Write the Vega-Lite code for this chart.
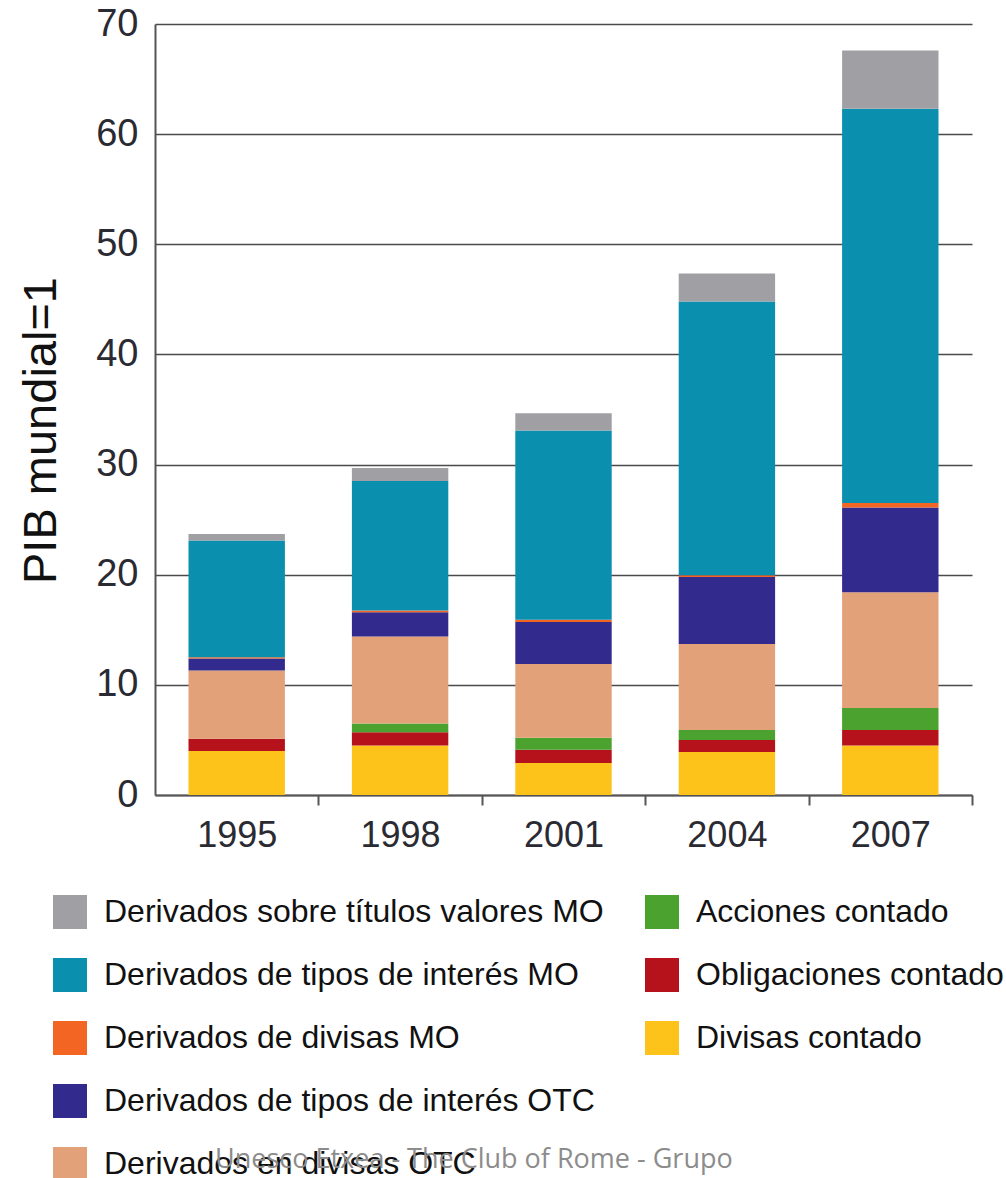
{
  "$schema": "https://vega.github.io/schema/vega-lite/v6.json",
  "width": 817,
  "height": 771,
  "autosize": {"type": "none"},
  "padding": {"left": 155, "top": 24, "right": 34, "bottom": 383},
  "background": "white",
  "title": {
    "text": "Unesco Etxea - The Club of Rome - Grupo",
    "orient": "top",
    "anchor": "start",
    "frame": "group",
    "font": "Open Sans",
    "fontSize": 27,
    "fontWeight": "normal",
    "color": "#8c8c8c",
    "dx": 60,
    "dy": 1173
  },
  "data": {
    "values": [
      {"anio": "1995", "cat": "Divisas contado", "orden": 1, "valor": 4.0},
      {"anio": "1995", "cat": "Obligaciones contado", "orden": 2, "valor": 1.1},
      {"anio": "1995", "cat": "Acciones contado", "orden": 3, "valor": 0.0},
      {"anio": "1995", "cat": "Derivados en divisas OTC", "orden": 4, "valor": 6.2},
      {"anio": "1995", "cat": "Derivados de tipos de interés OTC", "orden": 5, "valor": 1.1},
      {"anio": "1995", "cat": "Derivados de divisas MO", "orden": 6, "valor": 0.1},
      {"anio": "1995", "cat": "Derivados de tipos de interés MO", "orden": 7, "valor": 10.6},
      {"anio": "1995", "cat": "Derivados sobre títulos valores MO", "orden": 8, "valor": 0.6},
      {"anio": "1998", "cat": "Divisas contado", "orden": 1, "valor": 4.5},
      {"anio": "1998", "cat": "Obligaciones contado", "orden": 2, "valor": 1.2},
      {"anio": "1998", "cat": "Acciones contado", "orden": 3, "valor": 0.8},
      {"anio": "1998", "cat": "Derivados en divisas OTC", "orden": 4, "valor": 7.9},
      {"anio": "1998", "cat": "Derivados de tipos de interés OTC", "orden": 5, "valor": 2.2},
      {"anio": "1998", "cat": "Derivados de divisas MO", "orden": 6, "valor": 0.15},
      {"anio": "1998", "cat": "Derivados de tipos de interés MO", "orden": 7, "valor": 11.75},
      {"anio": "1998", "cat": "Derivados sobre títulos valores MO", "orden": 8, "valor": 1.2},
      {"anio": "2001", "cat": "Divisas contado", "orden": 1, "valor": 2.9},
      {"anio": "2001", "cat": "Obligaciones contado", "orden": 2, "valor": 1.2},
      {"anio": "2001", "cat": "Acciones contado", "orden": 3, "valor": 1.1},
      {"anio": "2001", "cat": "Derivados en divisas OTC", "orden": 4, "valor": 6.7},
      {"anio": "2001", "cat": "Derivados de tipos de interés OTC", "orden": 5, "valor": 3.8},
      {"anio": "2001", "cat": "Derivados de divisas MO", "orden": 6, "valor": 0.2},
      {"anio": "2001", "cat": "Derivados de tipos de interés MO", "orden": 7, "valor": 17.2},
      {"anio": "2001", "cat": "Derivados sobre títulos valores MO", "orden": 8, "valor": 1.55},
      {"anio": "2004", "cat": "Divisas contado", "orden": 1, "valor": 3.9},
      {"anio": "2004", "cat": "Obligaciones contado", "orden": 2, "valor": 1.1},
      {"anio": "2004", "cat": "Acciones contado", "orden": 3, "valor": 0.9},
      {"anio": "2004", "cat": "Derivados en divisas OTC", "orden": 4, "valor": 7.8},
      {"anio": "2004", "cat": "Derivados de tipos de interés OTC", "orden": 5, "valor": 6.1},
      {"anio": "2004", "cat": "Derivados de divisas MO", "orden": 6, "valor": 0.15},
      {"anio": "2004", "cat": "Derivados de tipos de interés MO", "orden": 7, "valor": 24.85},
      {"anio": "2004", "cat": "Derivados sobre títulos valores MO", "orden": 8, "valor": 2.55},
      {"anio": "2007", "cat": "Divisas contado", "orden": 1, "valor": 4.5},
      {"anio": "2007", "cat": "Obligaciones contado", "orden": 2, "valor": 1.4},
      {"anio": "2007", "cat": "Acciones contado", "orden": 3, "valor": 2.0},
      {"anio": "2007", "cat": "Derivados en divisas OTC", "orden": 4, "valor": 10.5},
      {"anio": "2007", "cat": "Derivados de tipos de interés OTC", "orden": 5, "valor": 7.7},
      {"anio": "2007", "cat": "Derivados de divisas MO", "orden": 6, "valor": 0.4},
      {"anio": "2007", "cat": "Derivados de tipos de interés MO", "orden": 7, "valor": 35.8},
      {"anio": "2007", "cat": "Derivados sobre títulos valores MO", "orden": 8, "valor": 5.3}
    ]
  },
  "mark": {"type": "bar"},
  "encoding": {
    "x": {
      "field": "anio",
      "type": "ordinal",
      "scale": {"paddingInner": 0.41, "paddingOuter": 0.205},
      "axis": {
        "title": null,
        "labelAngle": 0,
        "labelFont": "Liberation Sans",
        "labelFontSize": 36,
        "labelColor": "#2a2a32",
        "labelPadding": 13,
        "tickOffset": 81.7,
        "labelOffset": -81.7,
        "tickSize": 10,
        "tickColor": "#555555",
        "tickWidth": 2,
        "domainColor": "#555555",
        "domainWidth": 2,
        "grid": false
      }
    },
    "y": {
      "field": "valor",
      "type": "quantitative",
      "stack": "zero",
      "scale": {"domain": [0, 70], "nice": false},
      "axis": {
        "title": "PIB mundial=1",
        "titleFont": "Liberation Sans",
        "titleFontSize": 47,
        "titleFontWeight": "normal",
        "titleColor": "#111111",
        "titleAngle": -90,
        "titleAlign": "center",
        "titleBaseline": "middle",
        "titleX": -114,
        "titleY": 406,
        "values": [0, 10, 20, 30, 40, 50, 60, 70],
        "labelFont": "Liberation Sans",
        "labelFontSize": 38,
        "labelColor": "#2a2a32",
        "labelPadding": 17,
        "ticks": false,
        "domainColor": "#555555",
        "domainWidth": 2,
        "grid": true,
        "gridColor": "#4a4a4a",
        "gridWidth": 1.6
      }
    },
    "color": {
      "field": "cat",
      "type": "nominal",
      "scale": {
        "domain": [
          "Derivados sobre títulos valores MO",
          "Derivados de tipos de interés MO",
          "Derivados de divisas MO",
          "Derivados de tipos de interés OTC",
          "Derivados en divisas OTC",
          "Acciones contado",
          "Obligaciones contado",
          "Divisas contado",
          " ",
          "  "
        ],
        "range": [
          "#a0a0a4",
          "#0a8fae",
          "#f26522",
          "#332a8e",
          "#e3a179",
          "#4ba22e",
          "#b5121b",
          "#fdc31a",
          "transparent",
          "transparent"
        ]
      },
      "legend": {
        "title": null,
        "orient": "none",
        "legendX": -102,
        "legendY": 871,
        "columns": 2,
        "columnPadding": 41,
        "rowPadding": 29,
        "padding": 0,
        "symbolType": "square",
        "symbolSize": 1156,
        "symbolStrokeWidth": 0,
        "labelFont": "Liberation Sans",
        "labelFontSize": 32,
        "labelColor": "#111111",
        "labelOffset": 17,
        "labelLimit": 700
      }
    },
    "order": {"field": "orden", "type": "quantitative", "sort": "ascending"}
  },
  "config": {
    "view": {"stroke": null}
  }
}
